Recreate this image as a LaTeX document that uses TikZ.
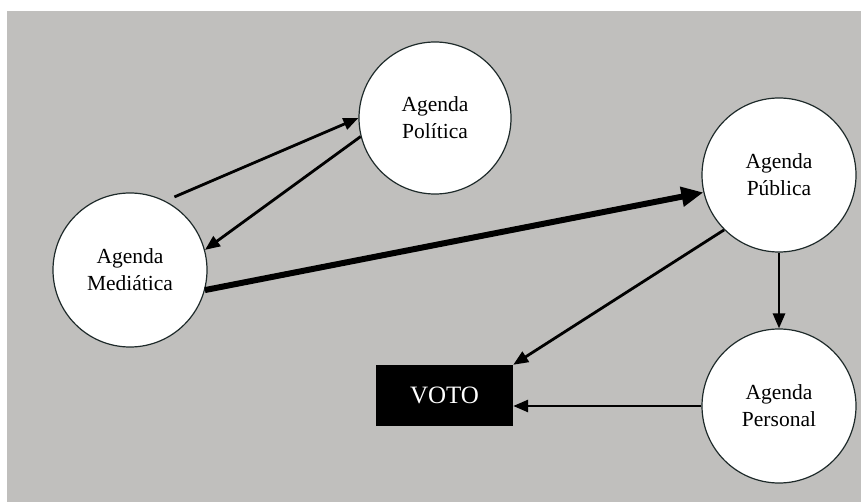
\documentclass[tikz,border=0pt]{standalone}
\usepackage{fontspec}
\setmainfont{Liberation Serif}
\usetikzlibrary{arrows.meta}
\definecolor{bggray}{RGB}{192,191,189}
\definecolor{rim}{RGB}{30,42,42}
\begin{document}
\begin{tikzpicture}[x=1pt,y=-1pt,
  agenda/.style={circle, fill=white, draw=rim, line width=1.2pt, minimum size=#1, inner sep=0pt,
    align=center, font=\fontsize{21.5}{27}\selectfont},
  thinarrow/.style={line width=2.8pt, -{Triangle[length=15pt,width=12pt]}},
  thickarrow/.style={line width=6pt, -{Triangle[length=22pt,width=19pt]}}]
\useasboundingbox (0,0) rectangle (861,502);
\fill[white] (0,0) rectangle (861,502);
\fill[bggray] (7,11) rectangle (861,502);
\node[agenda=152pt] (pol) at (435,118) {Agenda\\Política};
\node[agenda=154pt] (med) at (130,270) {Agenda\\Mediática};
\node[agenda=154pt] (pub) at (779,175) {Agenda\\Pública};
\node[agenda=154pt] (per) at (779,406) {Agenda\\Personal};
\node[fill=black, minimum width=137pt, minimum height=61pt, inner sep=0pt,
  text=white, font=\fontsize{25}{30}\selectfont] (voto) at (444.5,395.5) {VOTO};
\draw[thinarrow, shorten <=10pt] (med.63) -- (pol.180);
\draw[thinarrow] (pol.194) -- (med.15);
\draw[thickarrow] (med.-15) -- (pub.193);
\draw[thinarrow] (pub.south) -- (per.north);
\draw[thinarrow] (pub.225) -- (voto.north east);
\draw[thinarrow] (per.west) -- (per.west -| voto.east);
\end{tikzpicture}
\end{document}
